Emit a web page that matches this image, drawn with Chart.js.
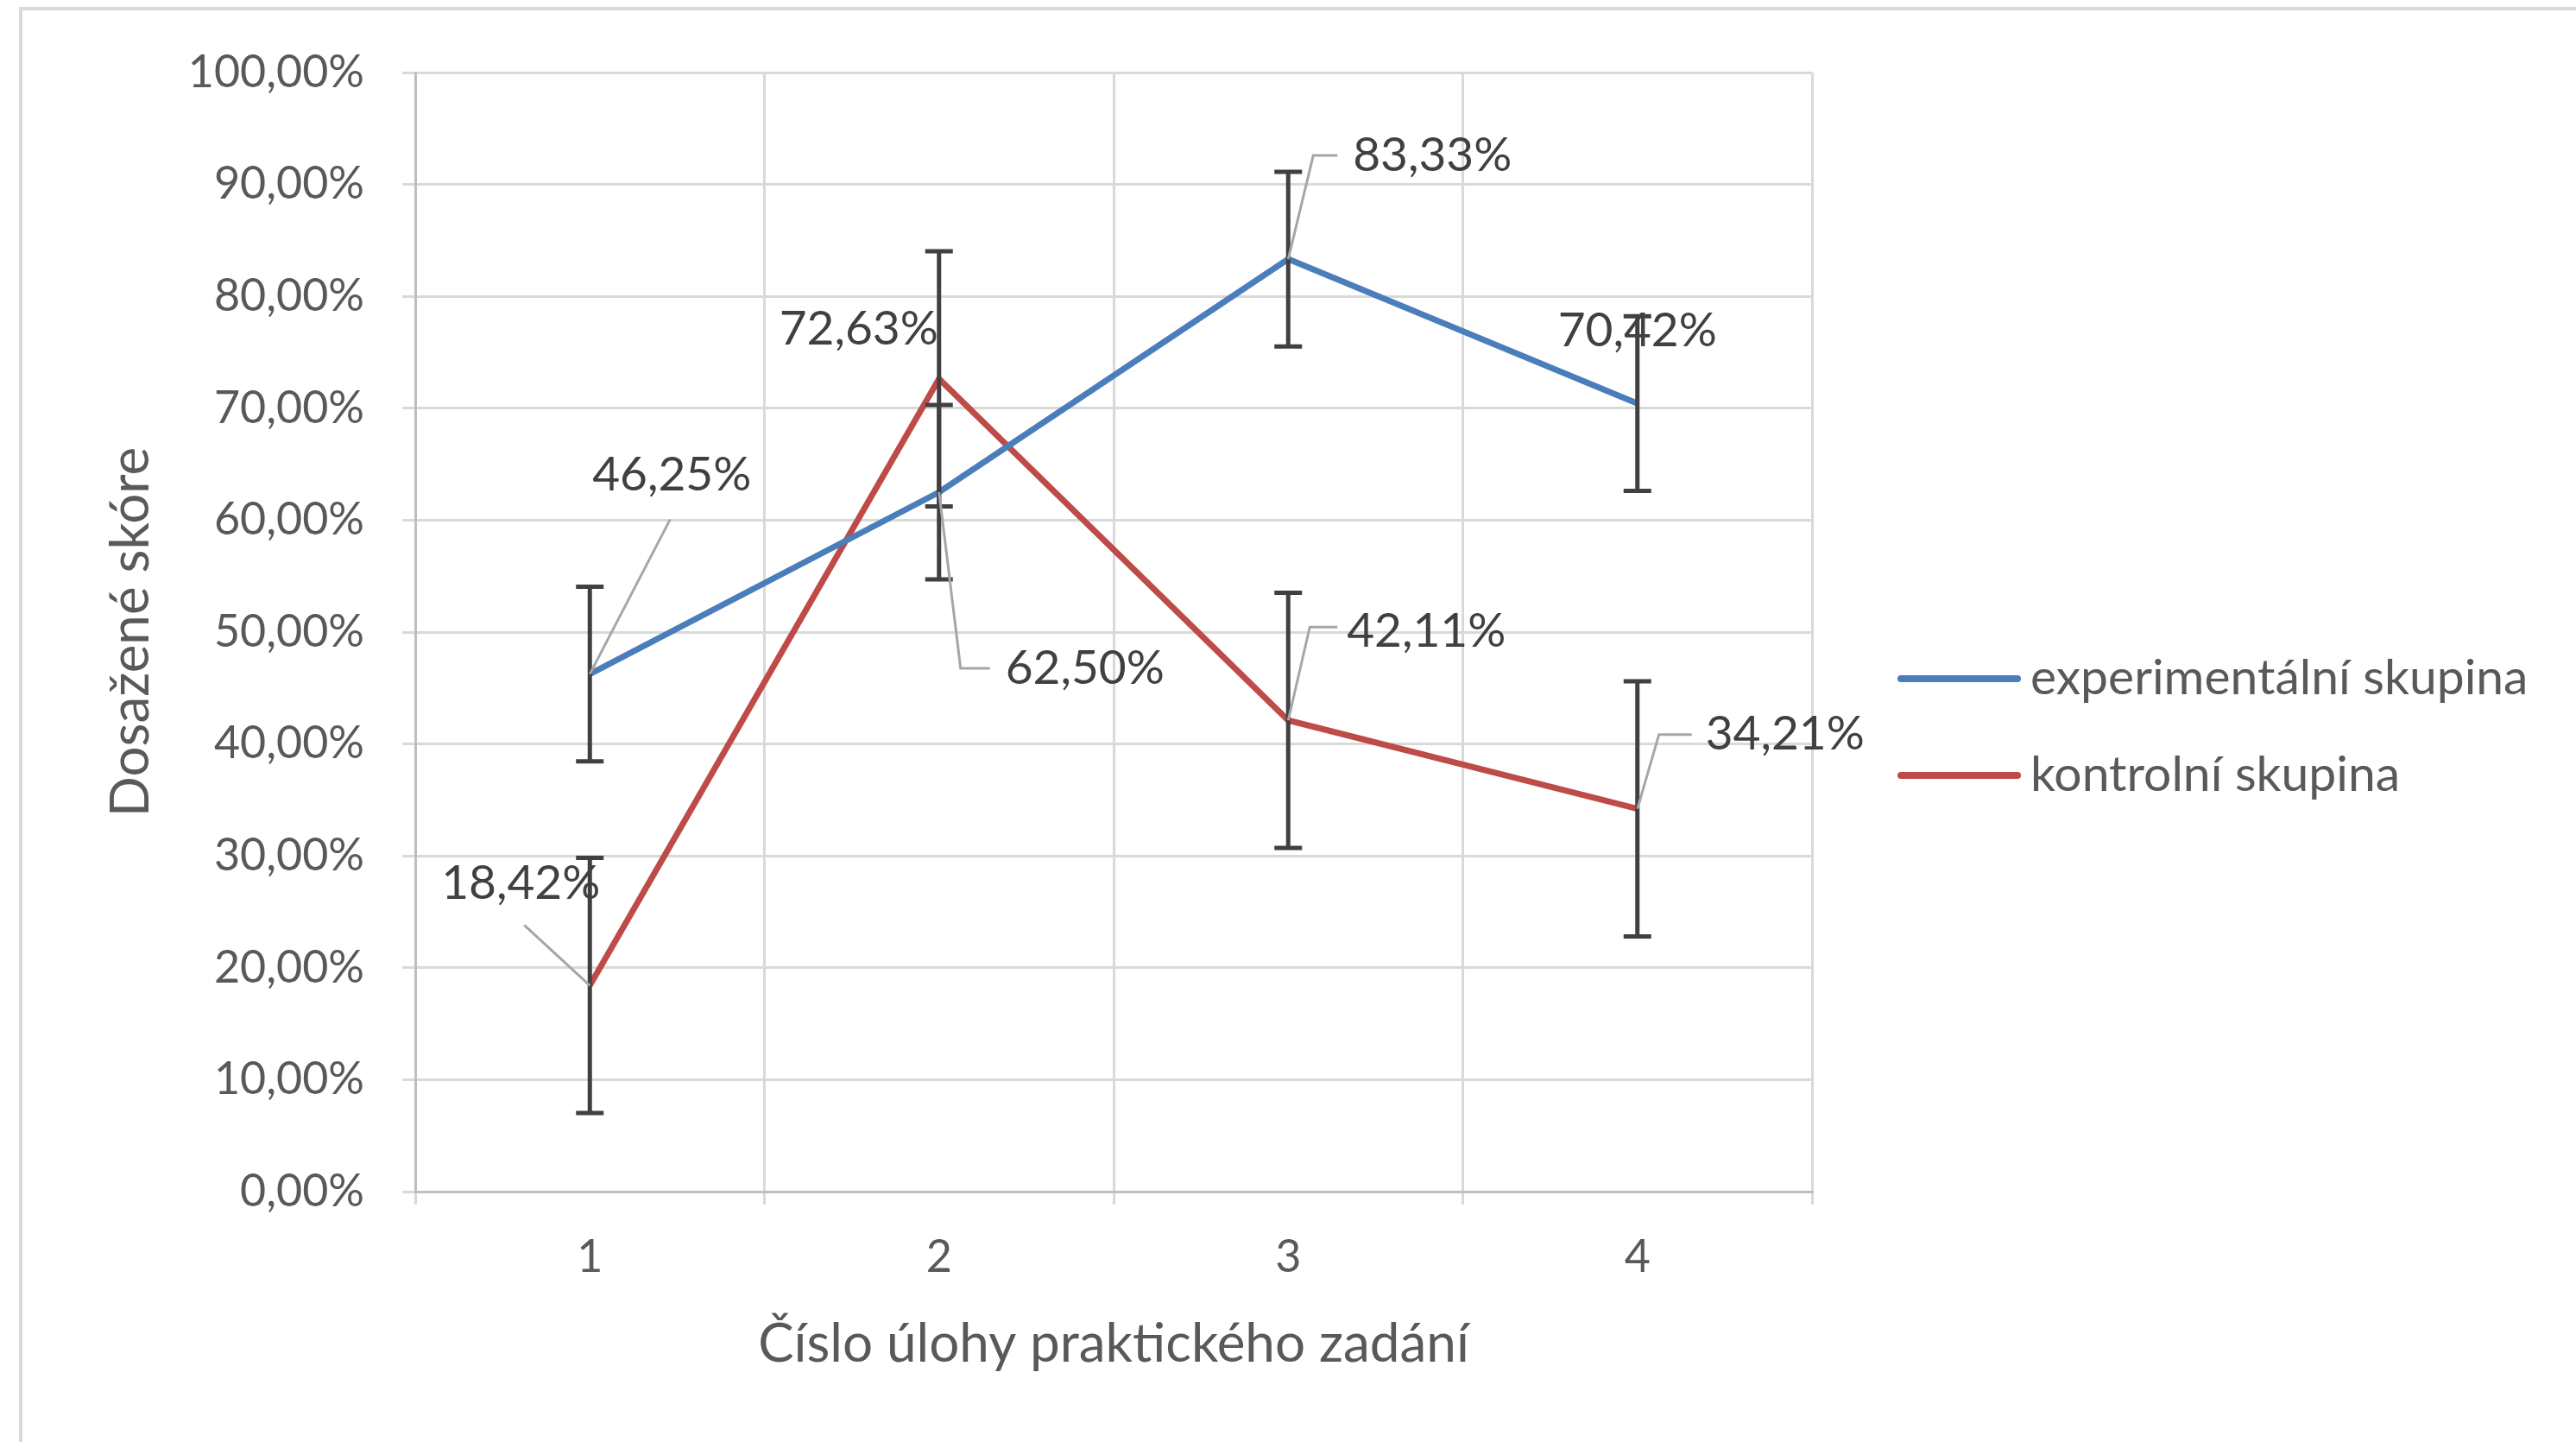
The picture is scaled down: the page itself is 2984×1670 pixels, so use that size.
<!DOCTYPE html>
<html>
<head>
<meta charset="utf-8">
<script src="https://cdn.jsdelivr.net/npm/chart.js@4.4.1/dist/chart.umd.min.js"></script>
<style>
  html, body { margin: 0; padding: 0; background: #fff; }
  #wrap { width: 2984px; height: 1670px; }
</style>
</head>
<body>
<div id="wrap"><canvas id="scoreChart" width="2984" height="1670"></canvas></div>
<script>
// data (percent)
var categories = ["1", "2", "3", "4"];
var expValues = [46.25, 62.50, 83.33, 70.42];
var ctrlValues = [18.42, 72.63, 42.11, 34.21];
var expErrors = [7.8, 7.8, 7.8, 7.8];
var ctrlErrors = [11.4, 11.4, 11.4, 11.4];
var yTicks = [0, 10, 20, 30, 40, 50, 60, 70, 80, 90, 100];
var seriesNames = ["experimentální skupina", "kontrolní skupina"];

var FONT = "Lato";
var TEXT = "#595959";

function pct(v) {
  return v.toFixed(2).replace(".", ",") + "%";
}

// where each data label sits relative to its point, and its leader line
var labelPlacement = [
  [
    { dx: 95, dy: -230, leader: [[93, -179]] },
    { dx: 169, dy: 204, leader: [[25, 204], [59, 204]] },
    { dx: 167, dy: -120, leader: [[29, -120], [57, -120]] },
    { dx: 0, dy: -84, leader: [] }
  ],
  [
    { dx: -80, dy: -118, leader: [[-76, -70]] },
    { dx: -93, dy: -57, leader: [] },
    { dx: 160, dy: -103, leader: [[25, -108], [57, -108]] },
    { dx: 171, dy: -86, leader: [[25, -86], [63, -86]] }
  ]
];

var framePlugin = {
  id: "frame",
  beforeDraw: function (chart) {
    var ctx = chart.ctx;
    ctx.save();
    ctx.strokeStyle = "#d9d9d9";
    ctx.lineWidth = 4;
    ctx.beginPath();
    ctx.moveTo(24, chart.height);
    ctx.lineTo(24, 10);
    ctx.lineTo(chart.width, 10);
    ctx.stroke();
    ctx.restore();
  }
};

var errorBarPlugin = {
  id: "errorBars",
  afterDatasetsDraw: function (chart) {
    var ctx = chart.ctx;
    var yScale = chart.scales.y;
    ctx.save();
    ctx.strokeStyle = "#404040";
    ctx.lineWidth = 5;
    chart.data.datasets.forEach(function (ds, i) {
      var meta = chart.getDatasetMeta(i);
      meta.data.forEach(function (pt, j) {
        var top = yScale.getPixelForValue(ds.data[j] + ds.errors[j]);
        var bot = yScale.getPixelForValue(ds.data[j] - ds.errors[j]);
        ctx.beginPath();
        ctx.moveTo(pt.x, top);
        ctx.lineTo(pt.x, bot);
        ctx.moveTo(pt.x - 16, top);
        ctx.lineTo(pt.x + 16, top);
        ctx.moveTo(pt.x - 16, bot);
        ctx.lineTo(pt.x + 16, bot);
        ctx.stroke();
      });
    });
    ctx.restore();
  }
};

var dataLabelPlugin = {
  id: "dataLabels",
  afterDatasetsDraw: function (chart) {
    var ctx = chart.ctx;
    ctx.save();
    ctx.font = "55px " + FONT;
    ctx.textAlign = "center";
    ctx.textBaseline = "middle";
    chart.data.datasets.forEach(function (ds, i) {
      var meta = chart.getDatasetMeta(i);
      meta.data.forEach(function (pt, j) {
        var p = labelPlacement[i][j];
        if (p.leader.length) {
          ctx.strokeStyle = "#a6a6a6";
          ctx.lineWidth = 3;
          ctx.beginPath();
          ctx.moveTo(pt.x, pt.y);
          p.leader.forEach(function (l) { ctx.lineTo(pt.x + l[0], pt.y + l[1]); });
          ctx.stroke();
        }
        ctx.fillStyle = "#404040";
        ctx.fillText(pct(ds.data[j]), pt.x + p.dx, pt.y + p.dy);
      });
    });
    ctx.restore();
  }
};

var legendPlugin = {
  id: "sideLegend",
  afterDraw: function (chart) {
    var ctx = chart.ctx;
    var area = chart.chartArea;
    ctx.save();
    ctx.font = "57px " + FONT;
    ctx.textAlign = "left";
    ctx.textBaseline = "middle";
    chart.data.datasets.forEach(function (ds, i) {
      var y = area.top + 702 + i * 112;
      var x = area.right + 103;
      ctx.strokeStyle = ds.borderColor;
      ctx.lineWidth = 8;
      ctx.lineCap = "round";
      ctx.beginPath();
      ctx.moveTo(x, y);
      ctx.lineTo(x + 135, y);
      ctx.stroke();
      ctx.fillStyle = TEXT;
      ctx.fillText(ds.label, x + 150, y);
    });
    ctx.restore();
  }
};

var config = {
  type: "line",
  data: {
    labels: categories,
    datasets: [
      {
        label: seriesNames[0],
        data: expValues,
        errors: expErrors,
        borderColor: "#4a7ebb",
        borderWidth: 7,
        pointRadius: 0,
        fill: false,
        tension: 0
      },
      {
        label: seriesNames[1],
        data: ctrlValues,
        errors: ctrlErrors,
        borderColor: "#be4b48",
        borderWidth: 7,
        pointRadius: 0,
        fill: false,
        tension: 0
      }
    ]
  },
  options: {
    responsive: false,
    animation: false,
    devicePixelRatio: 1,
    layout: { padding: { left: 0, top: 84, right: 885, bottom: 0 } },
    plugins: {
      legend: { display: false },
      tooltip: { enabled: false }
    },
    scales: {
      x: {
        offset: true,
        grid: { offset: true, color: "#d9d9d9", lineWidth: 3, tickLength: 15 },
        border: { color: "#bfbfbf", width: 3 },
        ticks: { color: TEXT, font: { family: FONT, size: 52 }, padding: 30 },
        title: {
          display: true,
          text: "Číslo úlohy praktického zadání",
          color: TEXT,
          font: { family: FONT, size: 62 },
          padding: { top: 0, bottom: 76 }
        },
        afterFit: function (scale) { scale.height = 290; }
      },
      y: {
        min: 0,
        max: 100,
        afterBuildTicks: function (scale) {
          scale.ticks = yTicks.map(function (v) { return { value: v }; });
        },
        grid: { color: "#d9d9d9", lineWidth: 3, tickLength: 15 },
        border: { color: "#bfbfbf", width: 3 },
        ticks: {
          color: TEXT,
          font: { family: FONT, size: 52 },
          padding: 44,
          callback: function (v) { return pct(v); }
        },
        title: {
          display: true,
          text: "Dosažené skóre",
          color: TEXT,
          font: { family: FONT, size: 62 },
          padding: { top: 115, bottom: 0 }
        },
        afterFit: function (scale) { scale.width = 481; }
      }
    }
  },
  plugins: [framePlugin, errorBarPlugin, dataLabelPlugin, legendPlugin]
};

var chart = new Chart(document.getElementById("scoreChart"), config);
</script>
</body>
</html>
